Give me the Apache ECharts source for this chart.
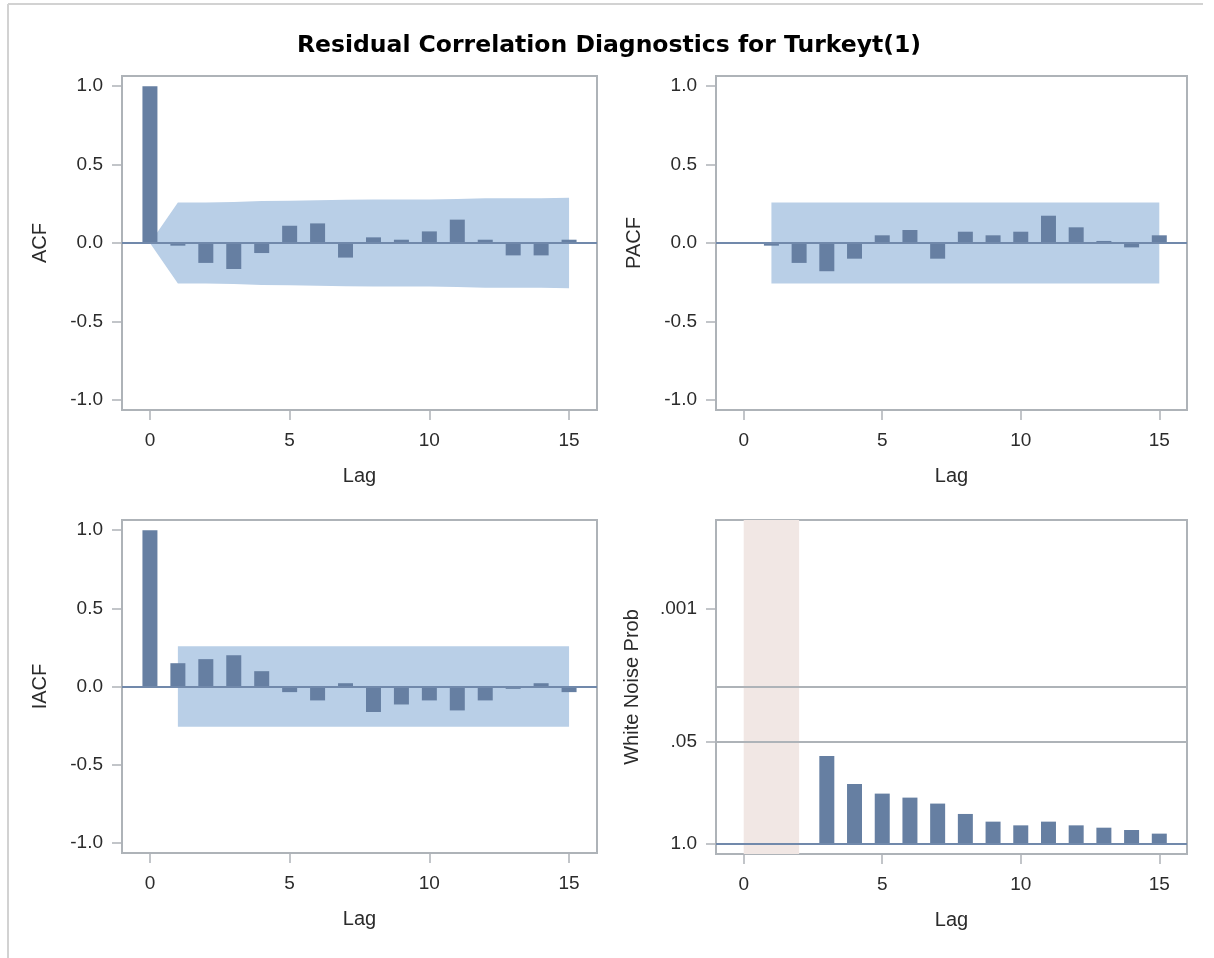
<!DOCTYPE html>
<html>
<head>
<meta charset="utf-8">
<script src="https://cdn.jsdelivr.net/npm/echarts@6/dist/echarts.min.js"></script>
<style>
  html, body { margin: 0; padding: 0; background: #ffffff; }
  #chart { width: 1214px; height: 958px; }
</style>
</head>
<body>
<div id="chart"></div>
<script>
// ---------- DATA ----------
const titleText = 'Residual Correlation Diagnostics for Turkeyt(1)';
const lags = [0, 1, 2, 3, 4, 5, 6, 7, 8, 9, 10, 11, 12, 13, 14, 15];
const lagTicks = [0, 5, 10, 15];
const corrTicks = [-1, -0.5, 0, 0.5, 1];

const acfValues = [1.0, -0.017, -0.127, -0.166, -0.064, 0.110, 0.125, -0.093, 0.036, 0.021, 0.074, 0.149, 0.021, -0.079, -0.079, 0.021];
// ACF 2-std-error band half width, lag 0..15
const acfBand = [0, 0.258, 0.258, 0.262, 0.268, 0.270, 0.273, 0.276, 0.278, 0.278, 0.278, 0.280, 0.285, 0.285, 0.286, 0.288];

const pacfLags = [1, 2, 3, 4, 5, 6, 7, 8, 9, 10, 11, 12, 13, 14, 15];
const pacfValues = [-0.017, -0.127, -0.180, -0.100, 0.049, 0.083, -0.100, 0.072, 0.049, 0.072, 0.174, 0.100, 0.013, -0.028, 0.049];
const pacfBand = 0.258;

const iacfValues = [1.0, 0.149, 0.175, 0.200, 0.098, -0.036, -0.089, 0.021, -0.163, -0.115, -0.089, -0.153, -0.089, -0.015, 0.021, -0.036];
const iacfBandLags = [1, 15];
const iacfBand = 0.258;

const wnLags = [3, 4, 5, 6, 7, 8, 9, 10, 11, 12, 13, 14, 15];
const wnProb = [0.076, 0.174, 0.231, 0.260, 0.310, 0.421, 0.528, 0.589, 0.528, 0.589, 0.631, 0.675, 0.752];
const wnTickProb = [1.0, 0.05, 0.001];
const wnTickLabels = ['1.0', '.05', '.001'];
const wnRefProb = [0.05, 0.01];
const wnShadeLags = [0, 2];

// ---------- STYLE ----------
const barColor = '#667FA2';
const bandColor = '#B9CFE7';
const zeroColor = '#7189AB';
const frameColor = '#AEB3B8';
const textColor = '#2b2b2b';
const font = "'Liberation Sans', Arial, sans-serif";
const nl = p => -Math.log10(p);

const grids = [
  { left: 122, top: 76, width: 475, height: 334 },
  { left: 716, top: 76, width: 471, height: 334 },
  { left: 122, top: 520, width: 475, height: 333 },
  { left: 716, top: 520, width: 471, height: 334 }
].map(g => Object.assign(g, { show: true, borderColor: frameColor, borderWidth: 2, backgroundColor: 'transparent' }));

function xAxisCfg(gi) {
  return {
    type: 'value', gridIndex: gi, min: -1, max: 16,
    splitLine: { show: false },
    axisLine: { show: false, onZero: false },
    axisTick: { show: true, length: 10, customValues: lagTicks, lineStyle: { color: frameColor, width: 1.5 } },
    axisLabel: { customValues: lagTicks, margin: 21, fontSize: 19, color: textColor, fontFamily: font },
    name: 'Lag', nameLocation: 'middle', nameGap: 56,
    nameTextStyle: { fontSize: 20, color: textColor, fontFamily: font }
  };
}
function yCorrCfg(gi, name) {
  return {
    type: 'value', gridIndex: gi, min: -1.065, max: 1.065,
    splitLine: { show: false },
    axisLine: { show: false, onZero: false },
    axisTick: { show: true, length: 10, customValues: corrTicks, lineStyle: { color: frameColor, width: 1.5 } },
    axisLabel: { customValues: corrTicks, margin: 19, fontSize: 19, color: textColor, fontFamily: font,
      formatter: v => v.toFixed(1) },
    name: name, nameLocation: 'middle', nameGap: 72, nameRotate: 90,
    nameTextStyle: { fontSize: 20, color: textColor, fontFamily: font }
  };
}
const wnTickVals = wnTickProb.map(nl);
const yWN = {
  type: 'value', gridIndex: 3, min: -0.137, max: 4.14,
  splitLine: { show: false },
  axisLine: { show: false, onZero: false },
  axisTick: { show: true, length: 10, customValues: wnTickVals, lineStyle: { color: frameColor, width: 1.5 } },
  axisLabel: { customValues: wnTickVals, margin: 19, fontSize: 19, color: textColor, fontFamily: font,
    formatter: v => {
      let best = 0;
      wnTickVals.forEach((t, i) => { if (Math.abs(t - v) < Math.abs(wnTickVals[best] - v)) best = i; });
      return wnTickLabels[best];
    } },
  name: 'White Noise Prob', nameLocation: 'middle', nameGap: 74, nameRotate: 90,
  nameTextStyle: { fontSize: 20, color: textColor, fontFamily: font }
};

function bandSeries(gi, xs, halfWidths) {
  const up = xs.map((x, i) => [x, halfWidths[i]]);
  const lo = xs.map((x, i) => [x, -halfWidths[i]]);
  return [up, lo].map(d => ({
    type: 'line', xAxisIndex: gi, yAxisIndex: gi, data: d, z: 1,
    showSymbol: false, symbol: 'none', silent: true,
    lineStyle: { width: 0, color: bandColor },
    areaStyle: { color: bandColor, opacity: 1, origin: 0 }
  }));
}
function zeroLine() {
  return { silent: true, symbol: 'none', label: { show: false },
    lineStyle: { color: zeroColor, width: 2, type: 'solid' }, data: [{ yAxis: 0 }] };
}
function barSeries(gi, xs, vals, extra) {
  return Object.assign({
    type: 'bar', xAxisIndex: gi, yAxisIndex: gi, z: 3,
    data: xs.map((x, i) => [x, vals[i]]),
    barWidth: 15, itemStyle: { color: barColor }, silent: true,
    markLine: zeroLine()
  }, extra || {});
}

const pacfBandArr = pacfLags.map(() => pacfBand);
const iacfBandArr = iacfBandLags.map(() => iacfBand);

const option = {
  animation: false,
  backgroundColor: '#ffffff',
  title: {
    text: titleText, left: 604, top: 29, textAlign: 'center',
    textStyle: { fontFamily: "'DejaVu Sans', sans-serif", fontWeight: 'bold', fontSize: 23.5, color: '#000' }
  },
  graphic: [
    { type: 'line', shape: { x1: 8, y1: 4, x2: 1203, y2: 4 }, style: { stroke: '#D2D2D2', lineWidth: 2 }, silent: true },
    { type: 'line', shape: { x1: 8, y1: 4, x2: 8, y2: 958 }, style: { stroke: '#D2D2D2', lineWidth: 2 }, silent: true }
  ],
  grid: grids,
  xAxis: [xAxisCfg(0), xAxisCfg(1), xAxisCfg(2), xAxisCfg(3)],
  yAxis: [yCorrCfg(0, 'ACF'), yCorrCfg(1, 'PACF'), yCorrCfg(2, 'IACF'), yWN],
  series: [
    ...bandSeries(0, lags, acfBand),
    barSeries(0, lags, acfValues),
    ...bandSeries(1, pacfLags, pacfBandArr),
    barSeries(1, pacfLags, pacfValues),
    ...bandSeries(2, iacfBandLags, iacfBandArr),
    barSeries(2, lags, iacfValues),
    barSeries(3, wnLags, wnProb.map(nl), {
      markArea: { silent: true, itemStyle: { color: '#F1E7E4' },
        data: [[{ xAxis: wnShadeLags[0] }, { xAxis: wnShadeLags[1] }]] },
      markLine: { silent: true, symbol: 'none', label: { show: false },
        data: [
          { yAxis: 0, lineStyle: { color: zeroColor, width: 2, type: 'solid' } },
          ...wnRefProb.map(p => ({ yAxis: nl(p), lineStyle: { color: frameColor, width: 2, type: 'solid' } }))
        ] }
    })
  ]
};

const chart = echarts.init(document.getElementById('chart'), null, { renderer: 'canvas' });
chart.setOption(option);
</script>
</body>
</html>
